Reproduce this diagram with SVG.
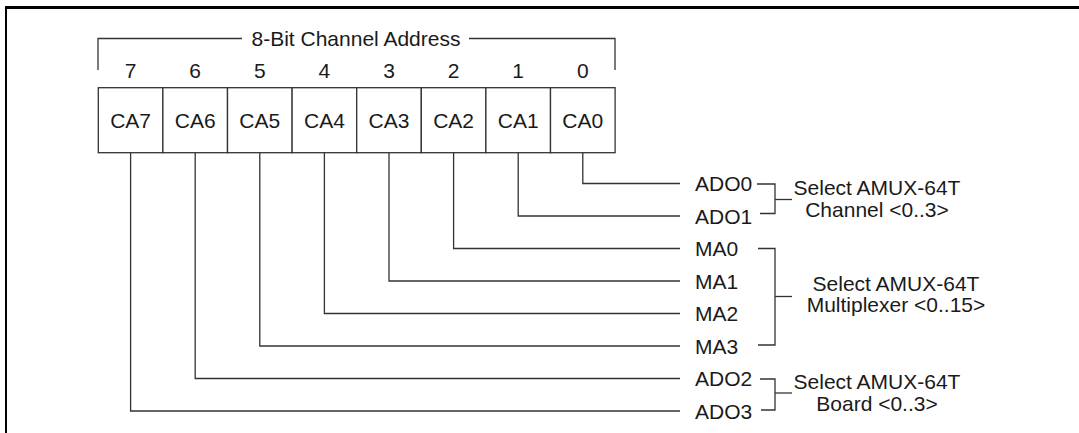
<svg xmlns="http://www.w3.org/2000/svg" width="1079" height="433" viewBox="0 0 1079 433">
<style>
.t{font-family:"Liberation Sans",Arial,Helvetica,sans-serif;font-size:21px;fill:#1a1a1a}
.m{text-anchor:middle}
.ln{fill:none;stroke:#333;stroke-width:1.3}
.box{fill:#fff;stroke:#333;stroke-width:1.3}
</style>
<rect width="1079" height="433" fill="#fff"/>
<g id="frame">
<line x1="5" y1="7.5" x2="1079" y2="7.5" stroke="#000" stroke-width="3"/>
<line x1="6" y1="7" x2="6" y2="433" stroke="#000" stroke-width="2"/>
</g>
<g id="title">
<polyline class="ln" points="98,70 98,38.5 242,38.5"/>
<polyline class="ln" points="469,38.5 615,38.5 615,70"/>
<text class="t m" x="356" y="46">8-Bit Channel Address</text>
</g>
<g id="bit-numbers" class="t m">
<text x="130.5" y="78">7</text>
<text x="195.2" y="78">6</text>
<text x="259.8" y="78">5</text>
<text x="324.4" y="78">4</text>
<text x="389" y="78">3</text>
<text x="453.6" y="78">2</text>
<text x="518.2" y="78">1</text>
<text x="582.8" y="78">0</text>
</g>
<g id="register">
<g id="CA7"><rect class="box" x="98.3" y="87.7" width="64.6" height="65"/><text class="t m" x="130.6" y="127.5">CA7</text></g>
<g id="CA6"><rect class="box" x="162.9" y="87.7" width="64.6" height="65"/><text class="t m" x="195.2" y="127.5">CA6</text></g>
<g id="CA5"><rect class="box" x="227.5" y="87.7" width="64.6" height="65"/><text class="t m" x="259.8" y="127.5">CA5</text></g>
<g id="CA4"><rect class="box" x="292.1" y="87.7" width="64.6" height="65"/><text class="t m" x="324.4" y="127.5">CA4</text></g>
<g id="CA3"><rect class="box" x="356.7" y="87.7" width="64.6" height="65"/><text class="t m" x="389" y="127.5">CA3</text></g>
<g id="CA2"><rect class="box" x="421.3" y="87.7" width="64.6" height="65"/><text class="t m" x="453.6" y="127.5">CA2</text></g>
<g id="CA1"><rect class="box" x="485.9" y="87.7" width="64.6" height="65"/><text class="t m" x="518.2" y="127.5">CA1</text></g>
<g id="CA0"><rect class="box" x="550.5" y="87.7" width="64.6" height="65"/><text class="t m" x="582.8" y="127.5">CA0</text></g>
</g>
<g id="connectors" class="ln">
<polyline points="582.8,152.7 582.8,183.5 680,183.5"/>
<polyline points="518.2,152.7 518.2,216 680,216"/>
<polyline points="453.6,152.7 453.6,248.5 680,248.5"/>
<polyline points="389,152.7 389,281 680,281"/>
<polyline points="324.4,152.7 324.4,313.5 680,313.5"/>
<polyline points="259.8,152.7 259.8,346 680,346"/>
<polyline points="195.2,152.7 195.2,378.5 680,378.5"/>
<polyline points="130.6,152.7 130.6,411 680,411"/>
</g>
<g id="signals" class="t">
<text x="695" y="191">ADO0</text>
<text x="695" y="223.5">ADO1</text>
<text x="695" y="256">MA0</text>
<text x="695" y="288.5">MA1</text>
<text x="695" y="321">MA2</text>
<text x="695" y="353.5">MA3</text>
<text x="695" y="386">ADO2</text>
<text x="695" y="418.5">ADO3</text>
</g>
<g id="channel-group">
<polyline class="ln" points="757,184 775,184 775,213.5 760,213.5"/>
<line class="ln" x1="775" y1="199.5" x2="792" y2="199.5"/>
<text class="t m" x="877" y="195">Select AMUX-64T</text>
<text class="t m" x="877" y="216.5">Channel &lt;0..3&gt;</text>
</g>
<g id="multiplexer-group">
<polyline class="ln" points="758,248.5 775,248.5 775,345 758,345"/>
<line class="ln" x1="775" y1="296.5" x2="792" y2="296.5"/>
<text class="t m" x="896" y="290.5">Select AMUX-64T</text>
<text class="t m" x="896" y="312">Multiplexer &lt;0..15&gt;</text>
</g>
<g id="board-group">
<polyline class="ln" points="760,379 775,379 775,410 761,410"/>
<line class="ln" x1="775" y1="393" x2="792" y2="393"/>
<text class="t m" x="877" y="389">Select AMUX-64T</text>
<text class="t m" x="877" y="410.5">Board &lt;0..3&gt;</text>
</g>
</svg>
